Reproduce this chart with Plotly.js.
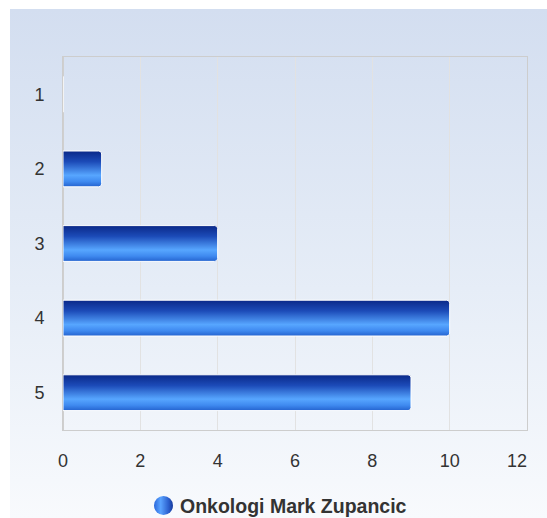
<!DOCTYPE html>
<html>
<head>
<meta charset="utf-8">
<script src="https://cdn.plot.ly/plotly-3.0.1.min.js"></script>
<style>
  html, body { margin: 0; padding: 0; background: #ffffff; }
  #bg { position: absolute; left: 10px; top: 9px; width: 537px; height: 509px;
        background: linear-gradient(to bottom, #d3def0 0%, #e6edf7 55%, #f8fafd 100%); }
  #chart { position: absolute; left: 0; top: 0; width: 547px; height: 518px; }
</style>
</head>
<body>
<div id="bg"></div>
<div id="chart"></div>
<script>
const categories = ['1', '2', '3', '4', '5'];
const values = [0, 1, 4, 10, 9];
const seriesName = 'Onkologi Mark Zupancic';
const xTicks = [0, 2, 4, 6, 8, 10, 12];
const xTickLabels = ['0', '2', '4', '6', '8', '10', '12\u2007\u2007'];

const trace = {
  type: 'bar',
  orientation: 'h',
  y: categories,
  x: values,
  name: seriesName,
  width: 0.48,
  marker: { color: '#2f6fe0', line: { color: '#ffffff', width: 1 }, cornerradius: 3 },
  showlegend: false,
  hoverinfo: 'x+y'
};

const layout = {
  width: 547, height: 518,
  margin: { l: 63, r: 20, t: 57, b: 88 },
  paper_bgcolor: 'rgba(0,0,0,0)',
  plot_bgcolor: 'rgba(0,0,0,0)',
  font: { family: '"Liberation Sans", Arial, sans-serif', size: 18, color: '#333333' },
  xaxis: {
    range: [0, 12], tickvals: xTicks, ticktext: xTickLabels,
    showgrid: true, gridcolor: '#e2e2e2', gridwidth: 1,
    zeroline: true, zerolinecolor: '#cfcfcf', zerolinewidth: 2,
    showline: true, linecolor: '#cdcdcd', linewidth: 1, mirror: true,
    ticks: '', ticklabelstandoff: 14, ticklabeloverflow: 'allow', fixedrange: true
  },
  yaxis: {
    type: 'category', autorange: 'reversed',
    showgrid: false, zeroline: false,
    showline: true, linecolor: '#cdcdcd', linewidth: 1, mirror: true,
    ticks: '', ticklabelstandoff: 14, fixedrange: true
  },
  shapes: [{
    type: 'circle', xref: 'paper', yref: 'paper',
    x0: (154 - 63) / 464, x1: (173 - 63) / 464,
    y0: (430 - 515) / 373, y1: (430 - 496) / 373,
    fillcolor: '#2f6fe0', line: { width: 0 }
  }],
  annotations: [{
    xref: 'paper', yref: 'paper',
    x: (178 - 63) / 464, y: (430 - 506) / 373,
    xanchor: 'left', yanchor: 'middle', showarrow: false,
    text: '<b>' + seriesName + '</b>',
    font: { size: 19.5, color: '#333333' }
  }]
};

Plotly.newPlot('chart', [trace], layout, { displayModeBar: false, staticPlot: true }).then(function (gd) {
  const svgNS = 'http://www.w3.org/2000/svg';
  const defs = gd.querySelector('svg.main-svg defs');
  function addGrad(id, horiz, stops) {
    const g = document.createElementNS(svgNS, 'linearGradient');
    g.setAttribute('id', id);
    g.setAttribute('x1', '0'); g.setAttribute('y1', '0');
    g.setAttribute('x2', horiz ? '1' : '0'); g.setAttribute('y2', horiz ? '0' : '1');
    stops.forEach(function (s) {
      const st = document.createElementNS(svgNS, 'stop');
      st.setAttribute('offset', s[0]);
      st.setAttribute('stop-color', s[1]);
      g.appendChild(st);
    });
    defs.appendChild(g);
  }
  addGrad('barGrad', false, [[0, '#0a2888'], [0.3, '#1c4bb8'], [0.68, '#57a6ff'], [0.85, '#3f8af0'], [1, '#2463cf']]);
  addGrad('legGrad', true, [[0, '#2a68dc'], [0.35, '#5aa3ff'], [0.75, '#2d62d0'], [1, '#173a9c']]);
  gd.querySelectorAll('.bars .point path').forEach(function (p) { p.style.fill = 'url(#barGrad)'; });
  gd.querySelectorAll('.shapelayer path').forEach(function (p) { p.style.fill = 'url(#legGrad)'; });
});
</script>
</body>
</html>
